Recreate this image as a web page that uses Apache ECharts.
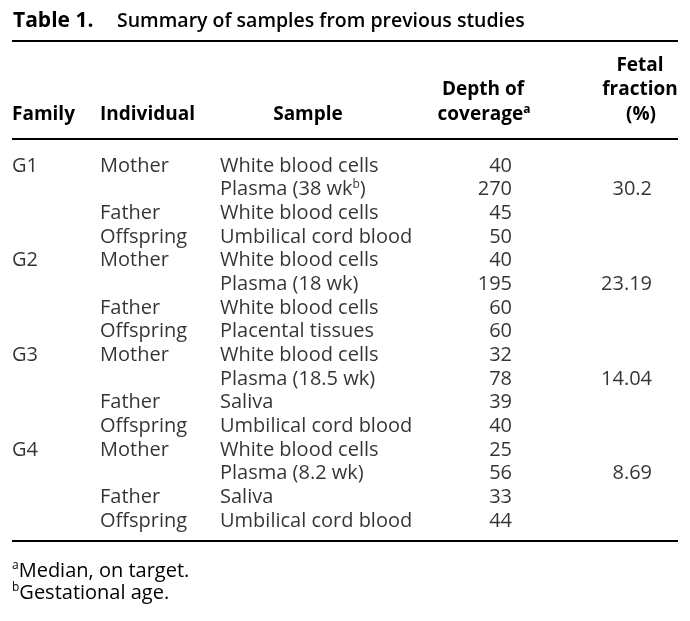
<!DOCTYPE html>
<html><head><meta charset="utf-8">
<script src="https://cdn.jsdelivr.net/npm/echarts@6/dist/echarts.min.js"></script>
<style>html,body{margin:0;padding:0;background:#fff}#c{width:690px;height:621px}</style>
</head><body><div id="c"></div>
<script>
// ---- data ----
const families = ['G1','','','','G2','','','','G3','','','','G4','','',''];
const individuals = ['Mother','','Father','Offspring','Mother','','Father','Offspring','Mother','','Father','Offspring','Mother','','Father','Offspring'];
const samples = ['White blood cells','Plasma (38 wk^b)','White blood cells','Umbilical cord blood','White blood cells','Plasma (18 wk)','White blood cells','Placental tissues','White blood cells','Plasma (18.5 wk)','Saliva','Umbilical cord blood','White blood cells','Plasma (8.2 wk)','Saliva','Umbilical cord blood'];
const depthOfCoverage = [40,270,45,50,40,195,60,60,32,78,39,40,25,56,33,44];
const fetalFraction = ['','30.2','','','','23.19','','','','14.04','','','','8.69','',''];
const titleLabel = 'Table 1.';
const titleText = 'Summary of samples from previous studies';
const footnotes = ['^aMedian, on target.', '^bGestational age.'];

// ---- layout / style ----
const FONT = '"Open Sans", "DejaVu Sans", sans-serif';
const FS = 20;
const HFS = 19;
const rowIds = samples.map((_, i) => 'r' + i);
const sup = s => s.replace(/\^([a-z])/g, '{sup|$1}');
const richBase = {
  sup: { fontSize: 12, lineHeight: 12, verticalAlign: 'top', fontFamily: FONT, color: '#000', fontWeight: 500 }
};
const richBold = {
  sup: { fontSize: 12, lineHeight: 12, verticalAlign: 'top', fontFamily: FONT, color: '#000', fontWeight: 'bold' }
};

function col(name, texts, x, align) {
  return {
    type: 'scatter', name, symbolSize: 0, silent: true,
    data: texts.map((t, i) => [x, i, String(t)]),
    label: {
      show: true,
      position: align === 'left' ? 'right' : 'left',
      distance: 0,
      formatter: p => sup(p.value[2]),
      fontFamily: FONT, fontSize: FS, color: '#000', lineHeight: 22, fontWeight: 500,
      rich: richBase
    }
  };
}

function txt(text, x, y, opts = {}) {
  return {
    type: 'text', x, y, silent: true,
    style: Object.assign({
      text: sup(text), fontFamily: FONT, fontSize: FS, fill: '#000', fontWeight: 500,
      textAlign: 'left', textVerticalAlign: 'middle', lineHeight: 22,
      rich: opts.bold ? richBold : richBase
    }, opts.bold ? { fontWeight: 'bold', fontSize: HFS } : {}, opts.style || {})
  };
}
function rule(y, w) {
  return { type: 'line', silent: true, shape: { x1: 12, y1: y, x2: 678, y2: y }, style: { stroke: '#000', lineWidth: w } };
}

const chart = echarts.init(document.getElementById('c'), null, { renderer: 'canvas' });
chart.setOption({
  animation: false,
  backgroundColor: '#fff',
  grid: { left: 0, right: 0, top: 154, height: 379 },
  xAxis: { type: 'value', min: 0, max: 690, show: false },
  yAxis: { type: 'category', data: rowIds, inverse: true, show: false },
  series: [
    col('Family', families, 12, 'left'),
    col('Individual', individuals, 100, 'left'),
    col('Sample', samples, 220, 'left'),
    col('Depth of coverage', depthOfCoverage, 512, 'right'),
    col('Fetal fraction', fetalFraction, 652, 'right')
  ],
  graphic: [
    txt(titleLabel, 13, 21, { bold: true, style: { fontSize: 21 } }),
    txt(titleText, 117, 21, { style: { fontSize: 19.5, fontWeight: 600 } }),
    rule(41, 2),
    txt('Fetal', 640, 66, { bold: true, style: { textAlign: 'center' } }),
    txt('Depth of', 483, 90, { bold: true, style: { textAlign: 'center' } }),
    txt('fraction', 640, 90, { bold: true, style: { textAlign: 'center' } }),
    txt('Family', 12, 115, { bold: true }),
    txt('Individual', 100, 115, { bold: true }),
    txt('Sample', 308, 115, { bold: true, style: { textAlign: 'center' } }),
    txt('coverage^a', 484, 115, { bold: true, style: { textAlign: 'center' } }),
    txt('(%)', 641, 115, { bold: true, style: { textAlign: 'center' } }),
    rule(139, 2),
    rule(541, 2),
    txt(footnotes[0], 12, 571),
    txt(footnotes[1], 12, 593)
  ]
});
</script></body></html>
